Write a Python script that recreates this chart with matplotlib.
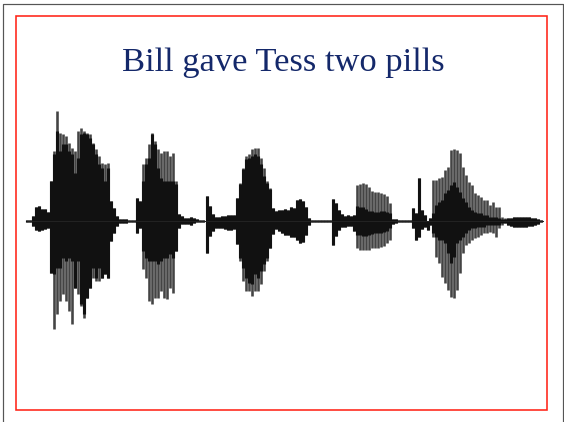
import matplotlib
matplotlib.use("Agg")
import matplotlib.pyplot as plt
from matplotlib.lines import Line2D
from matplotlib.patches import Rectangle

W, H = 564, 422
CENTER = 221

title = "Bill gave Tess two pills"

# each syllable: sample x (px), light top, dark top, light bottom, dark bottom (amplitude px)
lead_x = [27, 30, 33, 36, 39, 42, 45, 48]
lead_lu = [1, 1, 5, 14, 15, 12, 12, 9]
lead_ld = [1, 1, 5, 9, 10, 9, 8, 7]

bill_x = list(range(51, 123, 3))
bill_gu = [40, 70, 110, 88, 87, 85, 78, 73, 70, 90, 93, 90, 88, 87, 78, 72, 65, 58, 57, 58, 20, 13, 5, 2]
bill_du = [40, 67, 90, 70, 77, 77, 70, 67, 48, 63, 87, 88, 87, 83, 77, 67, 57, 53, 40, 53, 20, 13, 5, 2]
bill_gd = [52, 108, 93, 80, 73, 80, 90, 103, 67, 73, 85, 97, 77, 67, 57, 60, 60, 57, 53, 57, 20, 12, 5, 2]
bill_dd = [52, 53, 47, 47, 37, 40, 37, 40, 67, 40, 83, 93, 77, 67, 47, 57, 47, 57, 53, 57, 20, 12, 5, 2]

gap1_x = [123, 126, 129, 132, 135]
gap1_u = [2, 2, 1, 1, 1]
gap1_d = [2, 2, 1, 1, 1]

gave_x = list(range(137, 185, 3))
gave_gu = [23, 20, 57, 63, 77, 88, 80, 72, 68, 70, 70, 65, 68, 40, 7, 5]
gave_du = [23, 20, 40, 57, 63, 87, 77, 53, 43, 40, 40, 40, 40, 37, 7, 5]
gave_gd = [12, 7, 48, 57, 80, 83, 77, 77, 70, 77, 78, 67, 72, 30, 7, 3]
gave_dd = [12, 7, 30, 37, 40, 40, 40, 43, 40, 37, 37, 33, 37, 30, 7, 3]

gap2_x = [185, 188, 191, 194, 197, 200, 203]
gap2_u = [3, 3, 4, 3, 2, 1, 1]
gap2_d = [3, 3, 4, 2, 1, 1, 1]

tess_on_x = list(range(207, 237, 3))
tess_on_u = [25, 15, 7, 4, 4, 5, 5, 6, 6, 6]
tess_on_d = [32, 15, 10, 7, 7, 7, 8, 9, 9, 8]

tess_x = list(range(237, 276, 3))
tess_gu = [23, 38, 53, 65, 67, 72, 73, 73, 63, 53, 40, 33, 13]
tess_du = [23, 37, 52, 62, 63, 65, 67, 65, 57, 45, 38, 32, 13]
tess_gd = [23, 40, 60, 70, 70, 75, 70, 70, 63, 50, 40, 27, 13]
tess_dd = [23, 37, 47, 57, 62, 63, 53, 57, 50, 43, 37, 27, 13]

tess_off_x = list(range(276, 312, 3))
tess_off_u = [10, 11, 11, 12, 11, 14, 13, 21, 22, 20, 14, 3]
tess_off_d = [8, 10, 12, 14, 14, 16, 16, 19, 22, 21, 14, 4]

gap3_x = [312, 315, 318, 321, 324, 327, 330]
gap3_u = [1, 1, 1, 1, 1, 1, 1]
gap3_d = [1, 1, 1, 1, 1, 1, 1]

two_on_x = [333, 336, 339, 342, 345, 348, 351, 354]
two_on_u = [22, 18, 11, 7, 5, 6, 5, 6]
two_on_d = [24, 15, 9, 6, 6, 5, 5, 10]

two_x = list(range(357, 393, 3))
two_gu = [36, 37, 38, 37, 34, 30, 29, 29, 28, 27, 25, 18]
two_du = [15, 14, 14, 12, 10, 10, 9, 9, 10, 10, 9, 8]
two_gd = [27, 29, 29, 29, 29, 27, 27, 27, 26, 25, 22, 19]
two_dd = [14, 14, 15, 15, 14, 13, 12, 12, 12, 11, 10, 7]

gap4_x = [393, 396, 399, 402, 405, 408, 411]
gap4_u = [2, 2, 1, 1, 1, 1, 1]
gap4_d = [3, 2, 1, 1, 1, 1, 1]

pills_on_x = [413, 416, 419, 422, 425, 428]
pills_on_u = [13, 8, 43, 11, 6, 0]
pills_on_d = [7, 19, 16, 8, 6, 9]

pills_x = list(range(430, 508, 3))
pills_gu = [3, 41, 41, 43, 44, 51, 54, 71, 72, 71, 68, 54, 46, 39, 36, 28, 26, 24, 21, 21, 16, 19, 14, 14, 4, 3]
pills_du = [3, 8, 16, 19, 21, 28, 31, 36, 39, 34, 29, 23, 19, 14, 11, 9, 8, 8, 6, 6, 4, 4, 4, 3, 2, 2]
pills_gd = [4, 16, 36, 42, 56, 62, 69, 76, 77, 69, 52, 32, 24, 22, 19, 17, 16, 14, 12, 12, 11, 12, 16, 7, 4, 2]
pills_dd = [4, 12, 16, 19, 19, 22, 32, 42, 36, 22, 19, 16, 12, 9, 7, 7, 6, 6, 6, 4, 4, 4, 4, 4, 2, 2]

tail_x = list(range(508, 544, 3))
tail_u = [3, 3, 4, 4, 4, 4, 4, 4, 3, 3, 2, 1]
tail_d = [4, 5, 6, 6, 6, 6, 6, 5, 5, 4, 3, 1]

segments = [
    (lead_x, lead_lu, lead_lu, lead_ld, lead_ld),
    (bill_x, bill_gu, bill_du, bill_gd, bill_dd),
    (gap1_x, gap1_u, gap1_u, gap1_d, gap1_d),
    (gave_x, gave_gu, gave_du, gave_gd, gave_dd),
    (gap2_x, gap2_u, gap2_u, gap2_d, gap2_d),
    (tess_on_x, tess_on_u, tess_on_u, tess_on_d, tess_on_d),
    (tess_x, tess_gu, tess_du, tess_gd, tess_dd),
    (tess_off_x, tess_off_u, tess_off_u, tess_off_d, tess_off_d),
    (gap3_x, gap3_u, gap3_u, gap3_d, gap3_d),
    (two_on_x, two_on_u, two_on_u, two_on_d, two_on_d),
    (two_x, two_gu, two_du, two_gd, two_dd),
    (gap4_x, gap4_u, gap4_u, gap4_d, gap4_d),
    (pills_on_x, pills_on_u, pills_on_u, pills_on_d, pills_on_d),
    (pills_x, pills_gu, pills_du, pills_gd, pills_dd),
    (tail_x, tail_u, tail_u, tail_d, tail_d),
]

fig = plt.figure(figsize=(W / 100, H / 100), dpi=100)
ax = fig.add_axes([0, 0, 1, 1])
ax.set_xlim(0, W)
ax.set_ylim(CENTER - H, CENTER)
ax.axis("off")

px = 72 / 100
for xs, gu, du, gd, dd in segments:
    for x, a, b, c, d in zip(xs, gu, du, gd, dd, strict=True):
        ax.vlines(x, -c, a, color="#444444", lw=2.6 * px)
        ax.vlines(x, -d, b, color="#111111", lw=3.1 * px)
ax.plot([27, 543], [0, 0], color="#222222", lw=1.0 * px)

# slide frames
def fx(v):
    return v / W

def fy(v):
    return 1 - v / H

fig.add_artist(Line2D([fx(3), fx(3), fx(563), fx(563)], [0, fy(4), fy(4), 0], color="#555555", lw=1.2 * px))
fig.add_artist(Rectangle((fx(15.5), fy(410)), fx(531), 394 / H, fill=False, edgecolor="#ff2418", lw=1.6 * px,
                         transform=fig.transFigure))

fig.text(fx(283.5), fy(63), title, ha="center", va="center", family="Liberation Serif",
         fontsize=24.8, color="#14286a")

fig.savefig("out.png", dpi=100)
